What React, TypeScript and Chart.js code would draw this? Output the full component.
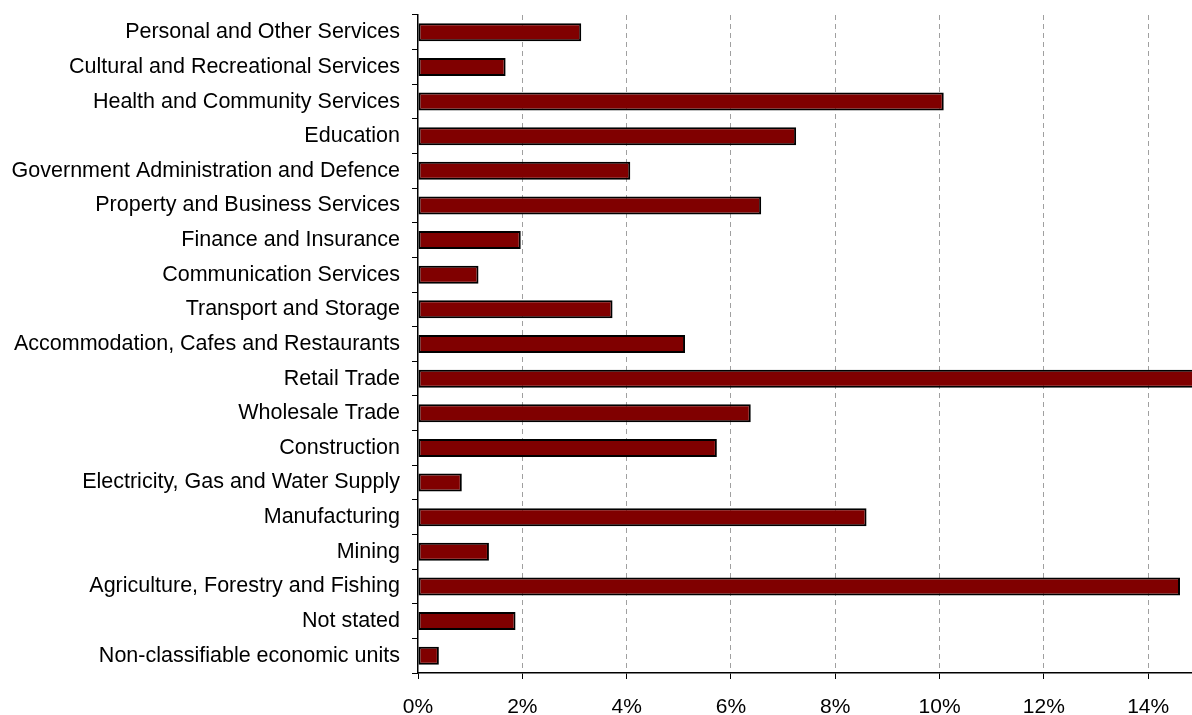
import React, { useEffect, useRef } from "react";
import { Chart, registerables } from "chart.js";

Chart.register(...registerables);

const industries: string[] = [
  "Personal and Other Services",
  "Cultural and Recreational Services",
  "Health and Community Services",
  "Education",
  "Government Administration and Defence",
  "Property and Business Services",
  "Finance and Insurance",
  "Communication Services",
  "Transport and Storage",
  "Accommodation, Cafes and Restaurants",
  "Retail Trade",
  "Wholesale Trade",
  "Construction",
  "Electricity, Gas and Water Supply",
  "Manufacturing",
  "Mining",
  "Agriculture, Forestry and Fishing",
  "Not stated",
  "Non-classifiable economic units",
];

const sharePercent: number[] = [
  3.13, 1.68, 10.08, 7.25, 4.07, 6.58, 1.97, 1.16, 3.73, 5.12, 15.0, 6.38, 5.73,
  0.84, 8.6, 1.36, 14.61, 1.87, 0.4,
];

const xMin = 0;
const xMax = 14.84;
const xStep = 2;

export default function App() {
  const canvasRef = useRef<HTMLCanvasElement | null>(null);

  useEffect(() => {
    const canvas = canvasRef.current;
    if (!canvas) return;
    const chart = new Chart(canvas, {
      type: "bar",
      data: {
        labels: industries,
        datasets: [
          {
            data: sharePercent,
            backgroundColor: "#800000",
            borderColor: "#000000",
            borderWidth: 2,
            borderSkipped: false,
            barPercentage: 0.52,
            categoryPercentage: 1,
          },
        ],
      },
      options: {
        indexAxis: "y",
        animation: false,
        responsive: false,
        maintainAspectRatio: false,
        layout: { padding: { top: 15, right: 0, left: 0, bottom: 0 } },
        plugins: {
          legend: { display: false },
          tooltip: { enabled: false },
        },
        scales: {
          x: {
            type: "linear",
            min: xMin,
            max: xMax,
            afterFit: (scale: any) => {
              scale.height = 42;
              scale.paddingLeft = 0;
              scale.paddingRight = 0;
            },
            border: { display: true, color: "#000000", width: 1.5, dash: [5, 4] },
            grid: {
              display: true,
              drawOnChartArea: true,
              drawTicks: true,
              tickLength: 6,
              color: (ctx: any) =>
                ctx.tick && ctx.tick.value === 0 ? "rgba(0,0,0,0)" : "#a0a0a0",
              tickColor: "#000000",
              tickBorderDash: [],
              lineWidth: 1,
            },
            ticks: {
              stepSize: xStep,
              includeBounds: false,
              color: "#000000",
              padding: 16,
              font: { family: "'Liberation Sans', Arial, sans-serif", size: 21 },
              callback: (v: any) => `${v}%`,
            },
          } as any,
          y: {
            type: "category",
            afterFit: (scale: any) => {
              scale.width = 418;
              scale.paddingTop = 0;
              scale.paddingBottom = 0;
            },
            border: { display: true, color: "#000000", width: 1.5 },
            grid: {
              display: true,
              offset: true,
              drawOnChartArea: false,
              drawTicks: true,
              tickLength: 6,
              tickColor: "#000000",
            },
            ticks: {
              color: "#000000",
              padding: 12,
              autoSkip: false,
              font: { family: "'Liberation Sans', Arial, sans-serif", size: 21.5 },
            },
          } as any,
        },
      },
    } as any);
    return () => chart.destroy();
  }, []);

  return (
    <div style={{ position: "fixed", left: 0, top: 0, width: 1192, height: 715, background: "#ffffff" }}>
      <canvas ref={canvasRef} width={1192} height={715} style={{ display: "block" }} />
    </div>
  );
}
